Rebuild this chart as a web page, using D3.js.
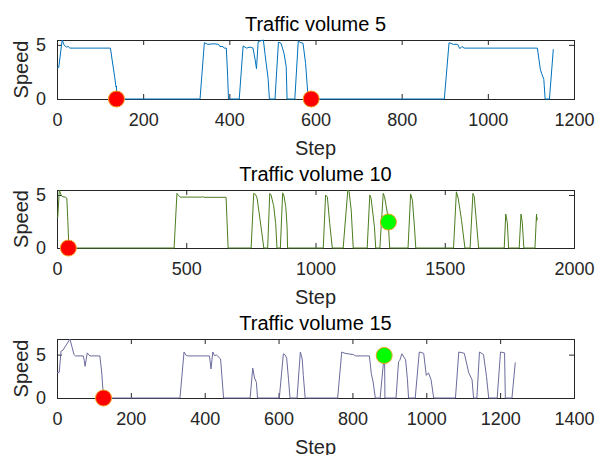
<!DOCTYPE html>
<html><head><meta charset="utf-8">
<script src="https://cdn.jsdelivr.net/npm/d3@7"></script>
<style>body{margin:0;background:#fff}svg{display:block}</style>
</head><body>
<svg id="c" width="598" height="455"></svg>
<script>
// ---- data ----
const titles = ["Traffic volume 5", "Traffic volume 10", "Traffic volume 15"];
const xMaxes = [1200, 2000, 1400];
const xTickSteps = [200, 500, 200];
const yTicks = [0, 5];
const lineColors = ["#0072BD", "#4b7d1e", "#6b6b9e"];

const steps5  = [0,4,12,17,22,26,30,124,128,134,137,138,139,332,342,350,365,375,378,385,388,393,396,398,423,432,440,448,455,460,463,467,471,479,483,490,493,506,514,520,527,532,534,552,560,566,571,577,583,899,910,920,930,935,940,945,1115,1122,1130,1133,1143,1152];
const speed5  = [2.9,2.9,5.45,4.95,4.8,4.85,4.7,4.7,3.6,2.0,1.1,1.2,0,0,5.2,5.05,5.1,5.05,4.85,4.85,4.7,4.7,2.2,0,0,4.9,4.7,4.8,4.7,3.6,2.8,5.3,5.35,5.45,4.1,1.9,0,0,5.25,5.15,4.2,3.0,0,0,5.35,5.2,5.15,3.3,0,0,5.2,5.05,5.05,4.65,4.85,4.7,4.7,2.7,1.8,0,0,4.6];

const steps10 = [0,3,9,15,20,32,38,42,46,453,464,470,477,560,565,568,654,657,662,751,761,768,774,782,792,800,815,823,828,838,846,851,864,873,878,885,890,892,1030,1039,1046,1055,1065,1107,1125,1130,1138,1146,1200,1210,1215,1228,1233,1249,1262,1267,1280,1287,1358,1368,1375,1383,1388,1534,1545,1552,1565,1578,1598,1609,1614,1622,1631,1730,1736,1742,1747,1788,1795,1800,1806,1849,1855,1856,1857];
const speed10 = [2.9,2.9,5.45,5.05,4.85,4.8,4.7,2.5,0,0,5.15,4.95,4.8,4.8,4.85,4.78,4.78,3.0,0,0,5.15,5.05,4.7,3.3,1.5,0,0,5.15,5.0,4.0,2.3,0,0,5.2,4.9,3.9,2.0,0,0,5.0,4.8,2.3,0,0,5.47,5.3,3.6,0,0,5.0,4.7,2.0,0,0,5.15,4.85,3.0,0,0,5.1,4.5,1.9,0,0,5.3,4.7,2.6,0,0,5.15,4.85,2.6,0,0,3.2,2.4,0,0,3.2,2.4,0,0,3.2,2.6,2.9];

const steps15 = [0,6,11,16,35,46,50,71,74,76,82,89,116,121,126,333,344,350,355,413,417,422,426,432,443,451,523,530,535,540,543,602,613,618,622,627,631,650,659,664,667,672,760,771,780,803,808,846,851,856,862,875,886,887,888,918,925,928,934,944,949,952,970,981,993,1000,1006,1013,1020,1079,1088,1103,1115,1124,1128,1137,1144,1155,1163,1169,1192,1201,1212,1214,1232,1241];
const speed15 = [2.95,2.95,5.4,5.5,6.8,5.0,4.85,4.85,4.3,3.65,5.2,4.85,4.85,3.0,0,0,5.3,4.9,4.85,4.85,3.35,5.3,4.9,4.95,4.5,0,0,3.45,2.3,1.8,0,0,5.1,4.95,4.6,2.1,0,0,5.3,4.5,2.6,0,0,5.3,5.15,5.0,4.85,4.85,2.85,1.85,0,0,4.95,4.95,0,0,4.2,4.3,5.1,4.4,2.1,0,0,5.3,5.15,2.6,2.9,2.1,0,0,5.3,5.15,2.9,2.1,0,0,5.3,5.0,2.5,0,0,5.3,5.2,0,0,4.1];

const redSteps  = [[138, 590], [44], [126]];
const redSpeeds = [[0, 0], [0], [0]];
const greenSteps  = [[], [1282], [886]];
const greenSpeeds = [[], [2.45], [4.9]];

const allSteps = [steps5, steps10, steps15];
const allSpeeds = [speed5, speed10, speed15];

// ---- layout ----
const svg = d3.select("#c");
const left = 57, right = 574;
const tops = [40, 190, 339], bottoms = [99, 248, 398];
const axisColor = "#262626";
const font = "'Liberation Sans', Arial, Helvetica, sans-serif";
const tickLen = 5;

for (let i = 0; i < 3; i++) {
  const x = d3.scaleLinear().domain([0, xMaxes[i]]).range([left, right]);
  const y = d3.scaleLinear().domain([0, d3.max(allSpeeds[i])]).range([bottoms[i], tops[i]]);
  const g = svg.append("g");
  const xt = d3.range(0, xMaxes[i] + 1, xTickSteps[i]);

  const pts = allSteps[i].map((s, k) => [s, allSpeeds[i][k]]);
  g.append("rect").attr("x", left).attr("y", tops[i]).attr("width", right - left).attr("height", bottoms[i] - tops[i])
    .attr("fill", "none").attr("stroke", axisColor).attr("stroke-width", 1).attr("shape-rendering", "crispEdges");

  const xb = d3.axisBottom(x).tickValues(xt).tickSize(-tickLen).tickPadding(14).tickFormat(d3.format("d"));
  const gx = g.append("g").attr("transform", `translate(0,${bottoms[i]})`).call(xb);
  const xt2 = d3.axisTop(x).tickValues(xt).tickSize(-tickLen).tickFormat("");
  const gxt = g.append("g").attr("transform", `translate(0,${tops[i]})`).call(xt2);
  const yl = d3.axisLeft(y).tickValues(yTicks).tickSize(-tickLen).tickPadding(11).tickFormat(d3.format("d"));
  const gy = g.append("g").attr("transform", `translate(${left},0)`).call(yl);
  const yr = d3.axisRight(y).tickValues(yTicks).tickSize(-tickLen).tickFormat("");
  const gyr = g.append("g").attr("transform", `translate(${right},0)`).call(yr);
  [gx, gxt, gy, gyr].forEach(a => {
    a.select(".domain").remove();
    a.selectAll(".tick line").attr("stroke", axisColor);
    a.selectAll(".tick text").attr("fill", axisColor).style("font-family", font).style("font-size", "18px");
  });
  gx.selectAll(".tick text").attr("dy", "0.71em");

  g.append("path").datum(pts)
    .attr("d", d3.line().x(d => x(d[0])).y(d => y(d[1])))
    .attr("fill", "none").attr("stroke", lineColors[i]).attr("stroke-width", 1);

  redSteps[i].forEach((s, k) => {
    g.append("circle").attr("cx", x(s)).attr("cy", y(redSpeeds[i][k])).attr("r", 8)
      .attr("fill", "#ff0000").attr("stroke", "#f0a020").attr("stroke-width", 1);
  });
  greenSteps[i].forEach((s, k) => {
    g.append("circle").attr("cx", x(s)).attr("cy", y(greenSpeeds[i][k])).attr("r", 8)
      .attr("fill", "#00ff00").attr("stroke", "#f0a020").attr("stroke-width", 1);
  });

  g.append("text").attr("x", (left + right) / 2).attr("y", tops[i] - 9)
    .attr("text-anchor", "middle").attr("fill", "#000").style("font-family", font).style("font-size", "20px")
    .text(titles[i]);
  g.append("text").attr("x", (left + right) / 2).attr("y", bottoms[i] + 56)
    .attr("text-anchor", "middle").attr("fill", axisColor).style("font-family", font).style("font-size", "20px")
    .text("Step");
  g.append("text").attr("transform", `translate(28,${(tops[i] + bottoms[i]) / 2}) rotate(-90)`)
    .attr("text-anchor", "middle").attr("fill", axisColor).style("font-family", font).style("font-size", "20px")
    .text("Speed");
}
</script>
</body></html>
